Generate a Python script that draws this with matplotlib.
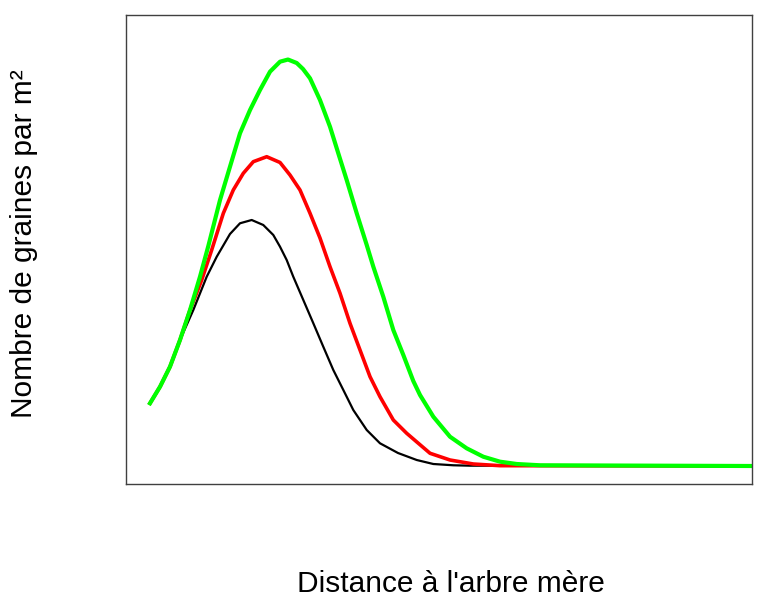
import matplotlib
matplotlib.use("Agg")
import matplotlib.pyplot as plt

# distance (arbitrary units) and seed density (arbitrary units)
black_x = [0, 1.67, 3.33, 5.0, 7.22, 9.45, 11.12, 13.33, 15.0, 16.95, 18.88, 20.55, 21.67, 22.78, 23.88,
           25.55, 27.22, 28.88, 30.55, 32.22, 33.88, 36.12, 38.33, 41.33, 44.45, 47.22, 50.55, 53.33, 100.33]
black_y = [15.68, 19.82, 24.82, 31.5, 39.0, 47.32, 52.32, 58.0, 60.68, 61.5, 60.25, 57.75, 54.82, 51.5, 47.32,
           41.5, 35.68, 29.82, 24.0, 19.0, 14.0, 9.0, 5.68, 3.25, 1.5, 0.5, 0.18, 0.08, 0]

red_x = [0, 1.67, 3.33, 5.0, 6.67, 8.62, 10.28, 12.22, 13.88, 15.55, 17.22, 19.45, 21.67, 23.33, 25.0, 26.67,
         28.33, 30.0, 31.67, 33.33, 35.0, 36.67, 38.33, 40.55, 42.78, 44.72, 46.67, 50.0, 53.88, 58.33, 100.33]
red_y = [15.68, 19.82, 24.82, 31.5, 39.0, 46.5, 54.0, 63.18, 69.0, 73.18, 76.08, 77.32, 75.88, 72.75, 69.0, 63.18,
         57.0, 49.82, 43.18, 35.68, 29.0, 22.32, 17.32, 11.5, 8.18, 5.68, 3.18, 1.5, 0.5, 0.08, 0]

green_x = [0, 1.67, 3.33, 5.0, 6.67, 8.33, 9.72, 11.67, 13.33, 15.0, 16.67, 18.33, 20.0, 21.67, 23.0, 24.45,
           25.5, 26.67, 28.33, 30.0, 31.38, 32.78, 34.45, 36.12, 37.22, 38.88, 40.55, 42.22, 43.88, 45.0,
           47.22, 50.0, 52.78, 55.55, 58.33, 61.12, 65.0, 100.33]
green_y = [15.68, 19.82, 24.82, 31.5, 39.0, 47.32, 55.0, 66.5, 74.82, 83.18, 89.0, 94.0, 98.58, 101.08, 101.62,
           100.75, 99.25, 96.92, 91.5, 84.82, 78.18, 71.5, 63.18, 55.25, 49.82, 42.32, 34.0, 27.75, 21.25, 17.75,
           12.32, 7.32, 4.42, 2.32, 1.08, 0.5, 0.18, 0]

plt.rcParams['font.family'] = ['Liberation Sans', 'DejaVu Sans']

fig = plt.figure(figsize=(7.64, 5.97), dpi=100)
ax = fig.add_axes([126 / 764, 1 - 484 / 597, 626 / 764, 469 / 597])

ax.plot(black_x, black_y, color='black', linewidth=1.6, solid_joinstyle='round')
ax.plot(red_x, red_y, color='#ff0000', linewidth=2.6, solid_joinstyle='round')
ax.plot(green_x, green_y, color='#00ff00', linewidth=3.0, solid_joinstyle='round')

ax.set_xlim(-4, 100.33)
ax.set_ylim(-4.5, 112.75)
ax.set_xticks([])
ax.set_yticks([])
for sp in ax.spines.values():
    sp.set_color('#404040')
    sp.set_linewidth(1.0)

fig.text(451 / 764, 1 - 592 / 597, "Distance à l'arbre mère", ha='center', va='baseline', fontsize=21.5)
fig.text(24 / 764, 1 - 244 / 597, "Nombre de graines par m²", ha='center', va='center',
         rotation=90, fontsize=21.5)

fig.savefig("out.png", dpi=100)
